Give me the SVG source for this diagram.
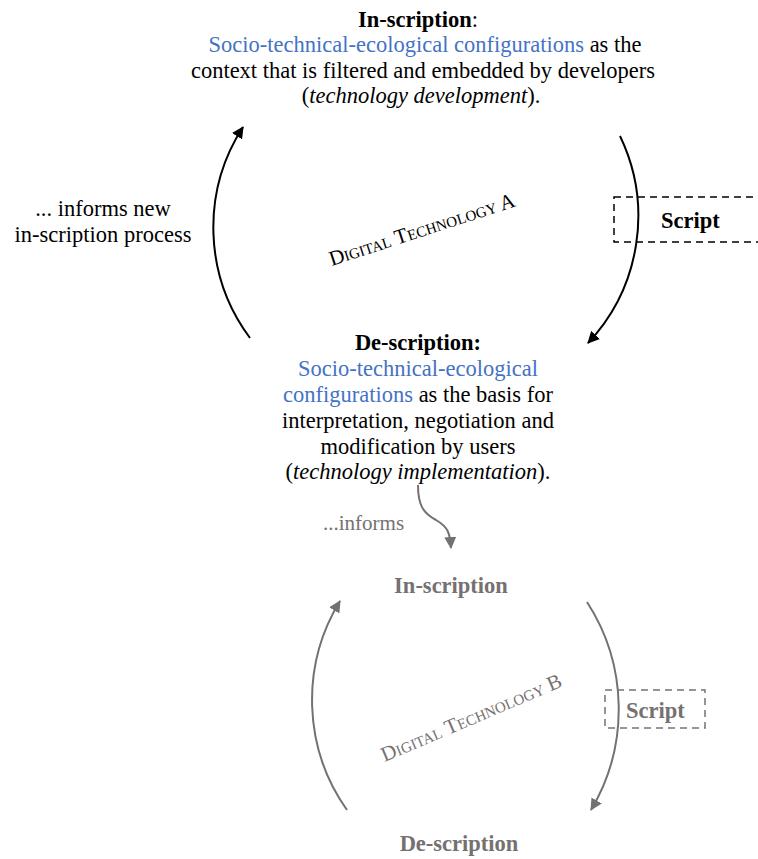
<svg xmlns="http://www.w3.org/2000/svg" width="758" height="859" viewBox="0 0 758 859">
<defs>
<style>
text{font-family:"Liberation Serif","DejaVu Serif",serif;font-size:22.5px;fill:#000}
.c{text-anchor:middle}
.b{font-weight:bold}
.blue{fill:#4472C4}
.g{fill:#767171}
.sm{font-size:21px}
.sc{font-variant:small-caps;font-size:21px}
.ln{fill:none;stroke:#000;stroke-width:2}
.lg{fill:none;stroke:#767171;stroke-width:2}
.dash{fill:none;stroke:#000;stroke-width:1.5;stroke-dasharray:7,5}
.dashg{fill:none;stroke:#767171;stroke-width:1.5;stroke-dasharray:7,5}
</style>
<marker id="ah" viewBox="0 0 12 12" refX="11" refY="6" markerWidth="12" markerHeight="12" markerUnits="userSpaceOnUse" orient="auto">
<path d="M0,0 L12,6 L0,12 z" fill="#000"/>
</marker>
<marker id="ahg" viewBox="0 0 12 12" refX="11" refY="6" markerWidth="12" markerHeight="12" markerUnits="userSpaceOnUse" orient="auto">
<path d="M0,0 L12,6 L0,12 z" fill="#767171"/>
</marker>
</defs>

<g id="connectors">
<path class="ln" d="M250,338 A185,185 0 0,1 243,127" marker-end="url(#ah)"/>
<path class="ln" d="M620,136 A185,185 0 0,1 588,343" marker-end="url(#ah)"/>
<path class="lg" d="M418,485 C418,505 423,513 436,520 C448,527 450,533 451,548" marker-end="url(#ahg)"/>
<path class="lg" d="M347,810 A190,190 0 0,1 340,601" marker-end="url(#ahg)"/>
<path class="lg" d="M587,602 A197,197 0 0,1 591,810" marker-end="url(#ahg)"/>
</g>

<g id="inscription-a">
<text class="c" x="418" y="27"><tspan class="b">In-scription</tspan>:</text>
<text class="c" x="425" y="52"><tspan class="blue">Socio-technical-ecological configurations</tspan> as the</text>
<text class="c" x="423" y="78">context that is filtered and embedded by developers</text>
<text class="c" x="421" y="103">(<tspan font-style="italic">technology development</tspan>).</text>
</g>

<g id="informs-new">
<text class="c" x="103" y="216">... informs new</text>
<text class="c" x="103" y="242">in-scription process</text>
</g>

<g id="digital-a">
<text class="sc c" x="424" y="236" transform="rotate(-18 424 236)">Digital Technology A</text>
</g>

<g id="script-a">
<rect class="dash" x="614" y="197" width="160" height="45"/>
<text class="b" x="661" y="228">Script</text>
</g>

<g id="description-a">
<text class="c b" x="418" y="350">De-scription:</text>
<text class="c blue" x="418" y="376">Socio-technical-ecological</text>
<text class="c" x="418" y="402"><tspan class="blue">configurations</tspan> as the basis for</text>
<text class="c" x="418" y="428">interpretation, negotiation and</text>
<text class="c" x="418" y="454">modification by users</text>
<text class="c" x="418" y="479">(<tspan font-style="italic">technology implementation</tspan>).</text>
</g>

<g id="informs">
<text class="g sm" x="323" y="530">...informs</text>
</g>

<g id="inscription-b">
<text class="c b g" x="451" y="593">In-scription</text>
</g>

<g id="digital-b">
<text class="sc c g" x="474" y="724" transform="rotate(-23 474 724)">Digital Technology B</text>
</g>

<g id="script-b">
<rect class="dashg" x="605" y="690" width="100" height="38"/>
<text class="b g" x="626" y="718">Script</text>
</g>

<g id="description-b">
<text class="c b g" x="459" y="851">De-scription</text>
</g>
</svg>
